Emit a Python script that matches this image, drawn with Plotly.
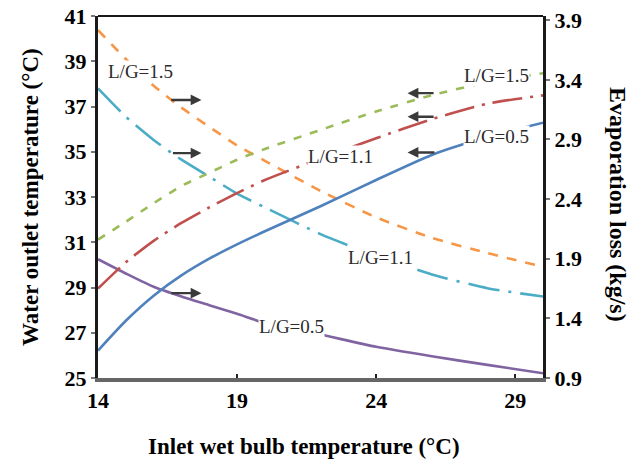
import plotly.graph_objects as go

# Inlet wet bulb temperature (°C)
x_wb = [14, 15, 16, 17, 18, 19, 20, 22, 24, 26, 28, 30]

# Water outlet temperature (°C) - left axis
t_out_lg15 = [40.38, 39.1, 37.92, 36.95, 36.1, 35.28, 34.6, 33.27, 32.1, 31.2, 30.52, 29.92]
t_out_lg11 = [37.8, 36.55, 35.52, 34.65, 33.9, 33.15, 32.54, 31.36, 30.4, 29.58, 28.97, 28.6]
t_out_lg05 = [30.25, 29.62, 29.03, 28.6, 28.22, 27.84, 27.43, 26.92, 26.38, 25.96, 25.58, 25.21]

# Evaporation loss (kg/s) - right axis
evap_lg15 = [2.06, 2.21, 2.365, 2.51, 2.62, 2.73, 2.82, 2.98, 3.135, 3.27, 3.38, 3.455]
evap_lg11 = [1.65, 1.87, 2.05, 2.2, 2.33, 2.45, 2.56, 2.74, 2.91, 3.07, 3.2, 3.27]
evap_lg05 = [1.13, 1.38, 1.59, 1.76, 1.9, 2.02, 2.13, 2.34, 2.56, 2.77, 2.92, 3.04]

x_ticks = [14, 19, 24, 29]
left_ticks = [25, 27, 29, 31, 33, 35, 37, 39, 41]
right_ticks = [0.9, 1.4, 1.9, 2.4, 2.9, 3.4, 3.9]

FONT = "Liberation Serif"
fig = go.Figure()

def add(y, color, dash, yaxis="y"):
    fig.add_trace(go.Scatter(x=x_wb, y=y, mode="lines", yaxis=yaxis,
                             line=dict(color=color, width=2.6, dash=dash, shape="spline", smoothing=0.6),
                             showlegend=False, hoverinfo="skip"))

add(t_out_lg15, "#F79646", "10px,9px")
add(t_out_lg11, "#4BACC6", "32px,9px,3px,9px")
add(t_out_lg05, "#8064A2", "solid")
add(evap_lg15, "#9BBB59", "8px,9px", "y2")
add(evap_lg11, "#C0504D", "30px,8px,3px,8px", "y2")
add(evap_lg05, "#4F81BD", "solid", "y2")

ann = []
labels = [
    ("L/G=1.5", 15.54, 38.53),
    ("L/G=1.1", 22.73, 34.77),
    ("L/G=1.1", 24.17, 30.31),
    ("L/G=0.5", 20.94, 27.26),
    ("L/G=1.5", 28.31, 38.39),
    ("L/G=0.5", 28.31, 35.66),
]
for txt, lx, ly in labels:
    ann.append(dict(text=txt, x=lx, y=ly, xref="x", yref="y", showarrow=False,
                    font=dict(family=FONT, size=19, color="#2b2b2b"),
                    bgcolor="white", borderpad=0))

arrows = [
    (17.72, 37.29, 16.58),
    (17.72, 34.94, 16.64),
    (17.72, 28.75, 16.58),
    (25.13, 37.59, 26.12),
    (25.13, 36.55, 26.12),
    (25.13, 34.97, 26.15),
]
for hx, hy, tx in arrows:
    ann.append(dict(text="", x=hx, y=hy, ax=tx, ay=hy, xref="x", yref="y", axref="x", ayref="y",
                    showarrow=True, arrowhead=2, arrowsize=0.9, arrowwidth=2.4, arrowcolor="#3a3a3a"))

ann += [
    dict(text="<b>Water outlet temperature (°C)</b>", x=-0.153, y=0.5, xref="paper", yref="paper",
         xanchor="center", yanchor="middle",
         textangle=-90, showarrow=False, font=dict(family=FONT, size=23, color="black")),
    dict(text="<b>Evaporation loss (kg/s)</b>", x=1.1685, y=0.478, xref="paper", yref="paper",
         xanchor="center", yanchor="middle",
         textangle=90, showarrow=False, font=dict(family=FONT, size=24, color="black")),
    dict(text="<b>Inlet wet bulb temperature (°C)</b>", x=0.463, y=-0.188, xref="paper", yref="paper",
         xanchor="center", yanchor="middle",
         showarrow=False, font=dict(family=FONT, size=23, color="black")),
]

tickfont = dict(family=FONT, size=22, color="black", weight="bold")
fig.update_layout(
    width=639, height=459,
    margin=dict(l=98, r=96, t=16, b=81, autoexpand=False),
    plot_bgcolor="white", paper_bgcolor="white",
    xaxis=dict(range=[14, 30], tickvals=x_ticks, showgrid=False, zeroline=False,
               showline=True, linecolor="#666666", linewidth=4,
               ticks="inside", ticklen=4, tickcolor="#222", tickwidth=2, tickfont=tickfont),
    yaxis=dict(range=[25, 41], tickvals=left_ticks, showgrid=False, zeroline=False,
               showline=True, linecolor="#1a1a1a", linewidth=3,
               ticks="outside", ticklen=4, tickcolor="#777", tickwidth=2, tickfont=tickfont),
    yaxis2=dict(range=[0.9, 3.935], tickvals=right_ticks, ticktext=[f"{v:.1f}" for v in right_ticks],
                overlaying="y", side="right", showgrid=False, zeroline=False,
                showline=True, linecolor="#1a1a1a", linewidth=3,
                ticks="outside", ticklen=4, tickcolor="#777", tickwidth=2, tickfont=tickfont),
    annotations=ann,
    shapes=[dict(type="line", xref="paper", yref="paper", x0=0, x1=1, y0=1, y1=1,
                 line=dict(color="#1a1a1a", width=2))],
)

fig.write_html("out.html", config={"displayModeBar": False},
               post_script="document.body.style.margin='0';document.body.style.padding='0';")
